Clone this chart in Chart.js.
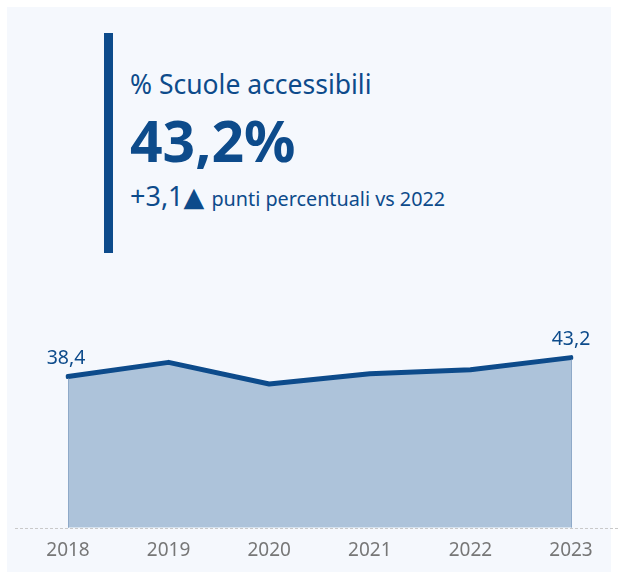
<!DOCTYPE html>
<html>
<head>
<meta charset="utf-8">
<script src="https://cdn.jsdelivr.net/npm/chart.js@4.4.0/dist/chart.umd.min.js"></script>
<style>
  html, body { margin:0; padding:0; background:#ffffff; width:618px; height:578px; overflow:hidden; font-family:"Noto Sans", sans-serif; }
  #panel { position:absolute; left:7px; top:7px; width:604px; height:565px; background:#f5f8fd; }
  #bar { position:absolute; left:104px; top:33px; width:8.5px; height:220px; background:#0d4b8b; }
  .t { position:absolute; left:130px; color:#0d4b8b; line-height:1; white-space:nowrap; }
  #title { top:71px; font-size:26.5px; }
  #kpi { top:112px; font-size:57px; font-weight:700; }
  #delta { top:182px; font-size:27px; }
  #delta .tri { font-family:"DejaVu Sans"; font-size:27px; }
  #delta .sm { font-size:19.8px; }
  #wrap { position:absolute; left:0; top:0; width:618px; height:578px; }
</style>
</head>
<body>
<div id="panel"></div>
<div id="bar"></div>
<div class="t" id="title">% Scuole accessibili</div>
<div class="t" id="kpi">43,2%</div>
<div class="t" id="delta">+3,1<span class="tri">▲</span> <span class="sm">punti percentuali vs 2022</span></div>
<div id="wrap"><canvas id="c" width="618" height="578"></canvas></div>
<script>
const years = ["2018", "2019", "2020", "2021", "2022", "2023"];
const values = [38.4, 42.0, 36.5, 39.1, 40.1, 43.2];
const labelIdx = [0, 5];

const fmt = v => v.toFixed(1).replace('.', ',');

const baselinePlugin = {
  id: 'baseline',
  beforeDatasetsDraw(chart) {
    const ctx = chart.ctx;
    const y = Math.round(chart.scales.y.getPixelForValue(0)) + 0.5;
    ctx.save();
    ctx.strokeStyle = '#c9c9c9';
    ctx.lineWidth = 1;
    ctx.setLineDash([3, 2]);
    ctx.beginPath();
    ctx.moveTo(15, y);
    ctx.lineTo(618, y);
    ctx.stroke();
    ctx.restore();
  },
  afterDatasetsDraw(chart) {
    const ctx = chart.ctx;
    const meta = chart.getDatasetMeta(0);
    const y0 = chart.scales.y.getPixelForValue(0);
    ctx.save();
    ctx.strokeStyle = '#8ea9c8';
    ctx.lineWidth = 1;
    [0, meta.data.length - 1].forEach(i => {
      const p = meta.data[i];
      ctx.beginPath();
      ctx.moveTo(Math.round(p.x) + 0.5, p.y + 2);
      ctx.lineTo(Math.round(p.x) + 0.5, y0);
      ctx.stroke();
    });
    ctx.fillStyle = '#0d4b8b';
    ctx.font = '19.5px "Noto Sans"';
    ctx.textAlign = 'center';
    ctx.textBaseline = 'alphabetic';
    labelIdx.forEach(i => {
      const p = meta.data[i];
      ctx.fillText(fmt(values[i]), p.x - (i === 0 ? 2 : 0), p.y - 13);
    });
    ctx.restore();
  }
};

new Chart(document.getElementById('c'), {
  type: 'line',
  data: {
    labels: years,
    datasets: [{
      data: values,
      borderColor: '#0d4b8b',
      borderWidth: 5,
      borderCapStyle: 'round',
      borderJoinStyle: 'round',
      backgroundColor: '#adc3da',
      fill: 'origin',
      pointRadius: 0,
      pointHoverRadius: 0,
      tension: 0
    }]
  },
  options: {
    responsive: false,
    animation: false,
    events: [],
    layout: { padding: { left: 68, right: 47, top: 291.5, bottom: 13.5 } },
    plugins: { legend: { display: false }, tooltip: { enabled: false }, title: { display: false } },
    scales: {
      x: {
        offset: false,
        grid: { display: false },
        border: { display: false },
        ticks: { color: '#777777', font: { family: 'Noto Sans', size: 19 }, padding: 3, maxRotation: 0 }
      },
      y: { display: false, min: 0, max: 60 }
    }
  },
  plugins: [baselinePlugin]
});
</script>
</body>
</html>
